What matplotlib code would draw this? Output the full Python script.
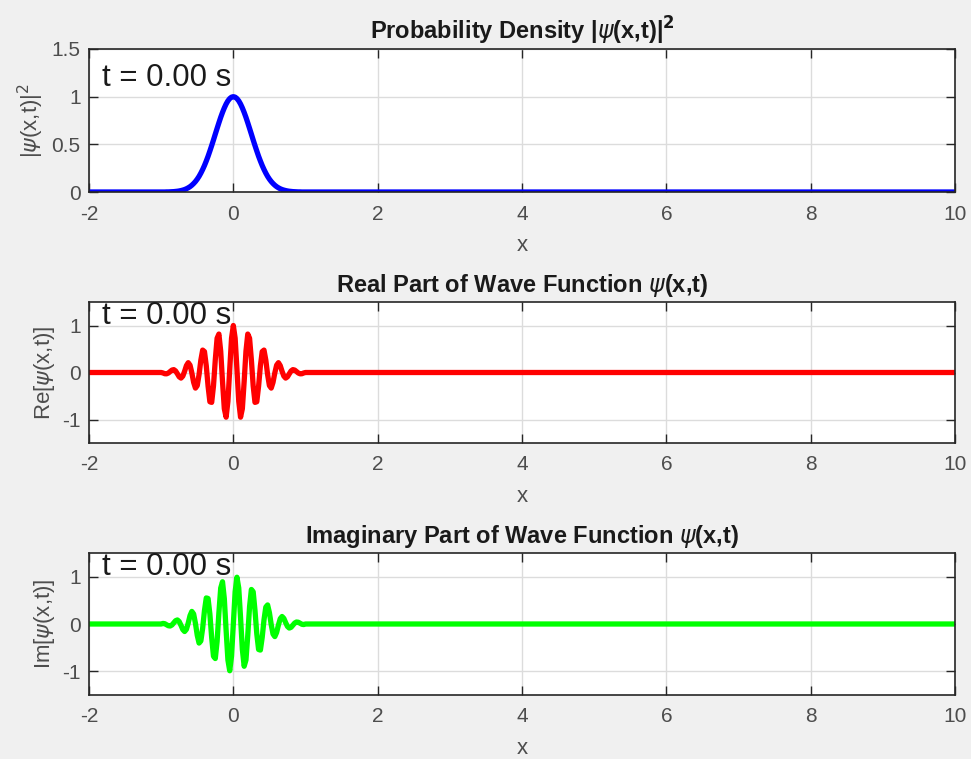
import matplotlib
matplotlib.use("Agg")
import matplotlib.pyplot as plt

plt.rcParams['font.family'] = ['Liberation Sans', 'DejaVu Sans']
plt.rcParams['mathtext.fontset'] = 'dejavusans'

# ---- data ----
x_vals = [-2.0,
          -1.0, -0.975, -0.95, -0.925, -0.9, -0.875, -0.85, -0.825, -0.8, -0.775,
          -0.75, -0.725, -0.7, -0.675, -0.65, -0.625, -0.6, -0.575, -0.55, -0.525,
          -0.5, -0.475, -0.45, -0.425, -0.4, -0.375, -0.35, -0.325, -0.3, -0.275,
          -0.25, -0.225, -0.2, -0.175, -0.15, -0.125, -0.1, -0.075, -0.05, -0.025,
          0.0,
          0.025, 0.05, 0.075, 0.1, 0.125, 0.15, 0.175, 0.2, 0.225, 0.25,
          0.275, 0.3, 0.325, 0.35, 0.375, 0.4, 0.425, 0.45, 0.475, 0.5,
          0.525, 0.55, 0.575, 0.6, 0.625, 0.65, 0.675, 0.7, 0.725, 0.75,
          0.775, 0.8, 0.825, 0.85, 0.875, 0.9, 0.925, 0.95, 0.975, 1.0,
          10.0]

prob_density = [0.0,
                0.000, 0.000, 0.000, 0.001, 0.001, 0.002, 0.003, 0.004, 0.006, 0.008,
                0.011, 0.015, 0.020, 0.026, 0.034, 0.044, 0.056, 0.071, 0.089, 0.110,
                0.135, 0.164, 0.198, 0.236, 0.278, 0.325, 0.375, 0.430, 0.487, 0.546,
                0.607, 0.667, 0.726, 0.783, 0.835, 0.882, 0.923, 0.956, 0.980, 0.995,
                1.000,
                0.995, 0.980, 0.956, 0.923, 0.882, 0.835, 0.783, 0.726, 0.667, 0.607,
                0.546, 0.487, 0.430, 0.375, 0.325, 0.278, 0.236, 0.198, 0.164, 0.135,
                0.110, 0.089, 0.071, 0.056, 0.044, 0.034, 0.026, 0.020, 0.015, 0.011,
                0.008, 0.006, 0.004, 0.003, 0.002, 0.001, 0.001, 0.000, 0.000, 0.000,
                0.0]

real_part = [0.0,
             0.000, -0.010, -0.026, -0.028, -0.011, 0.021, 0.052, 0.061, 0.033, -0.028,
             -0.092, -0.119, -0.077, 0.027, 0.147, 0.209, 0.156, -0.007, -0.210, -0.332,
             -0.279, -0.046, 0.265, 0.477, 0.445, 0.143, -0.291, -0.623, -0.636, -0.285,
             0.270, 0.729, 0.818, 0.453, -0.193, -0.771, -0.951, -0.614, 0.070, 0.730,
             1.000,
             0.730, 0.070, -0.614, -0.951, -0.771, -0.193, 0.453, 0.818, 0.729, 0.270,
             -0.285, -0.636, -0.623, -0.291, 0.143, 0.445, 0.477, 0.265, -0.046, -0.279,
             -0.332, -0.210, -0.007, 0.156, 0.209, 0.147, 0.027, -0.077, -0.119, -0.092,
             -0.028, 0.033, 0.061, 0.052, 0.021, -0.011, -0.028, -0.026, -0.010, 0.000,
             0.0]

imag_part = [0.0,
             0.000, 0.012, 0.006, -0.016, -0.037, -0.042, -0.020, 0.025, 0.070, 0.086,
             0.051, -0.029, -0.118, -0.159, -0.112, 0.021, 0.178, 0.266, 0.212, 0.014,
             -0.239, -0.403, -0.358, -0.089, 0.283, 0.551, 0.539, 0.209, -0.288, -0.682,
             -0.730, -0.368, 0.238, 0.760, 0.893, 0.537, -0.136, -0.761, -0.988, -0.680,
             0.000,
             0.680, 0.988, 0.761, 0.136, -0.537, -0.893, -0.760, -0.238, 0.368, 0.730,
             0.682, 0.288, -0.209, -0.539, -0.551, -0.283, 0.089, 0.358, 0.403, 0.239,
             -0.014, -0.212, -0.266, -0.178, -0.021, 0.112, 0.159, 0.118, 0.029, -0.051,
             -0.086, -0.070, -0.025, 0.020, 0.042, 0.037, 0.016, -0.006, -0.012, 0.000,
             0.0]

time_label = "t = 0.00 s"
x_ticks = [-2, 0, 2, 4, 6, 8, 10]
prob_yticks = [0, 0.5, 1, 1.5]
prob_yticklabels = ["0", "0.5", "1", "1.5"]
wave_yticks = [-1, 0, 1]
wave_yticklabels = ["-1", "0", "1"]

titles = [r"Probability Density |$\psi$(x,t)|$^{\mathbf{2}}$",
          r"Real Part of Wave Function $\psi$(x,t)",
          r"Imaginary Part of Wave Function $\psi$(x,t)"]
ylabels = [r"|$\psi$(x,t)|$^2$", r"Re[$\psi$(x,t)]", r"Im[$\psi$(x,t)]"]
series = [prob_density, real_part, imag_part]
colors = ["#0000FF", "#FF0000", "#00FF00"]
ylims = [(0, 1.5), (-1.5, 1.5), (-1.5, 1.5)]

# ---- figure ----
W, H = 971, 759
fig = plt.figure(figsize=(W / 100, H / 100), dpi=100, facecolor="#F0F0F0")

# axes boxes in pixels: (left, top, right, bottom)
boxes = [(89, 49, 955, 192), (89, 302, 955, 443), (89, 553, 955, 695)]
axc = "#262626"

for i, (l, t, r, b) in enumerate(boxes):
    ax = fig.add_axes([l / W, 1 - b / H, (r - l) / W, (b - t) / H])
    ax.set_facecolor("white")
    ax.plot(x_vals, series[i], color=colors[i], lw=3.8, solid_capstyle="butt")
    ax.set_xlim(-2, 10)
    ax.set_ylim(*ylims[i])
    ax.set_xticks(x_ticks)
    ax.set_xticklabels([str(v) for v in x_ticks])
    if i == 0:
        ax.set_yticks(prob_yticks)
        ax.set_yticklabels(prob_yticklabels)
    else:
        ax.set_yticks(wave_yticks)
        ax.set_yticklabels(wave_yticklabels)
    ax.grid(True, color="#DCDCDC", lw=1.0)
    ax.set_axisbelow(True)
    for s in ax.spines.values():
        s.set_color(axc)
        s.set_linewidth(1.2)
    ax.tick_params(axis="both", direction="in", length=6.5, width=1.0, colors=axc,
                   labelcolor="#4D4D4D", labelsize=15, top=True, right=True)
    ax.tick_params(axis="x", pad=9)
    ax.tick_params(axis="y", pad=6)
    ax.set_title(titles[i], fontsize=17, fontweight="bold", color="#1A1A1A", pad=7)
    ax.set_xlabel("x", fontsize=16, color="#4D4D4D", labelpad=8)
    ax.set_ylabel(ylabels[i], fontsize=16, color="#4D4D4D", labelpad=4)
    ax.text(-1.82, 1.2, time_label, fontsize=22.5, color="#1A1A1A",
            ha="left", va="center")

fig.savefig("out.png", dpi=100, facecolor=fig.get_facecolor())
